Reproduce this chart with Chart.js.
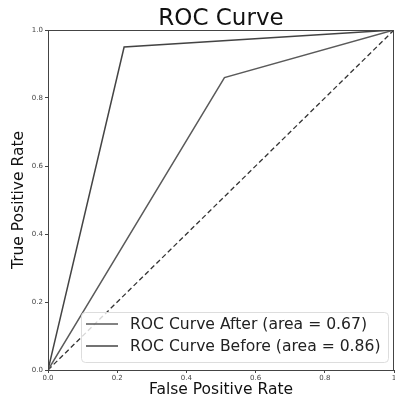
<!DOCTYPE html>
<html>
<head>
<meta charset="utf-8">
<script src="https://cdn.jsdelivr.net/npm/chart.js@4/dist/chart.umd.min.js"></script>
<style>
  html, body { margin: 0; padding: 0; background: #fff; }
  #wrap { width: 395px; height: 402px; }
</style>
</head>
<body>
<div id="wrap"><canvas id="roc"></canvas></div>
<script>
const fprAfter = [0, 0.51, 1];
const tprAfter = [0, 0.86, 1];
const fprBefore = [0, 0.22, 1];
const tprBefore = [0, 0.95, 1];
const chanceX = [0, 1];
const chanceY = [0, 1];
const labelAfter = "ROC Curve After (area = 0.67)";
const labelBefore = "ROC Curve Before (area = 0.86)";
const xTicks = [0, 0.2, 0.4, 0.6, 0.8, 1];
const yTicks = [0, 0.2, 0.4, 0.6, 0.8, 1];

const toPoints = (xs, ys) => xs.map((x, i) => ({ x: x, y: ys[i] }));

// frame + title + legend box drawn like matplotlib
const mplPlugin = {
  id: "mpl",
  afterDraw(chart) {
    let ctx = chart.ctx;
    let a = chart.chartArea;
    ctx.save();
    ctx.strokeStyle = "#444";
    ctx.lineWidth = 1;
    ctx.strokeRect(a.left + 0.5, a.top + 0.5, a.right - a.left - 1, a.bottom - a.top);

    ctx.fillStyle = "#111";
    ctx.font = "23px 'DejaVu Sans'";
    ctx.textAlign = "center";
    ctx.textBaseline = "alphabetic";
    ctx.fillText("ROC Curve", (a.left + a.right) / 2, 25);

    // legend
    let bx = 81, by = 312, bw = 307, bh = 50;
    ctx.fillStyle = "rgba(255,255,255,0.8)";
    ctx.strokeStyle = "#ddd";
    ctx.beginPath();
    ctx.roundRect(bx + 0.5, by + 0.5, bw, bh, 4);
    ctx.fill();
    ctx.stroke();
    let items = chart.data.datasets.filter((d) => d.label);
    items.forEach((d, i) => {
      let yy = 324 + i * 22;
      ctx.strokeStyle = d.borderColor;
      ctx.lineWidth = 1.5;
      ctx.beginPath();
      ctx.moveTo(86, yy);
      ctx.lineTo(118, yy);
      ctx.stroke();
      ctx.fillStyle = "#222";
      ctx.font = "15.6px 'DejaVu Sans'";
      ctx.textAlign = "left";
      ctx.textBaseline = "middle";
      ctx.fillText(d.label, 130, yy + 1);
    });
    ctx.restore();
  },
};

new Chart(document.getElementById("roc"), {
  type: "line",
  data: {
    datasets: [
      {
        label: labelAfter,
        data: toPoints(fprAfter, tprAfter),
        borderColor: "#5a5a5a",
        borderWidth: 1.5,
        pointRadius: 0,
        tension: 0,
      },
      {
        label: labelBefore,
        data: toPoints(fprBefore, tprBefore),
        borderColor: "#444",
        borderWidth: 1.5,
        pointRadius: 0,
        tension: 0,
      },
      {
        label: "",
        data: toPoints(chanceX, chanceY),
        borderColor: "#333",
        borderWidth: 1.3,
        borderDash: [5, 3],
        pointRadius: 0,
      },
    ],
  },
  options: {
    responsive: true,
    maintainAspectRatio: false,
    animation: false,
    layout: { padding: { top: 30, right: 1, left: 0, bottom: 0 } },
    plugins: {
      legend: { display: false },
      title: { display: false },
      tooltip: { enabled: false },
    },
    scales: {
      x: {
        type: "linear",
        min: 0,
        max: 1,
        afterBuildTicks: (s) => { s.ticks = xTicks.map((v) => ({ value: v })); },
        afterFit: (s) => { s.height = 32; s.paddingRight = 0; s.paddingLeft = 0; },
        ticks: {
          color: "#444",
          font: { size: 7, family: "'DejaVu Sans'" },
          padding: 1,
          maxRotation: 0,
          callback: (v) => (v === 1 ? "1" : v.toFixed(1)),
        },
        grid: { drawOnChartArea: false, tickLength: 3, color: "#444" },
        border: { color: "#444" },
        title: {
          display: true,
          text: "False Positive Rate",
          color: "#111",
          font: { size: 15.5, family: "'DejaVu Sans'" },
          padding: { top: 0, bottom: 3 },
        },
      },
      y: {
        type: "linear",
        min: 0,
        max: 1,
        afterBuildTicks: (s) => { s.ticks = yTicks.map((v) => ({ value: v })); },
        afterFit: (s) => { s.width = 48; },
        ticks: {
          color: "#444",
          font: { size: 7, family: "'DejaVu Sans'" },
          padding: 2,
          callback: (v) => v.toFixed(1),
        },
        grid: { drawOnChartArea: false, tickLength: 3, color: "#444" },
        border: { color: "#444" },
        title: {
          display: true,
          text: "True Positive Rate",
          color: "#111",
          font: { size: 15.5, family: "'DejaVu Sans'" },
          padding: { top: 10, bottom: 0 },
        },
      },
    },
  },
  plugins: [mplPlugin],
});
</script>
</body>
</html>
